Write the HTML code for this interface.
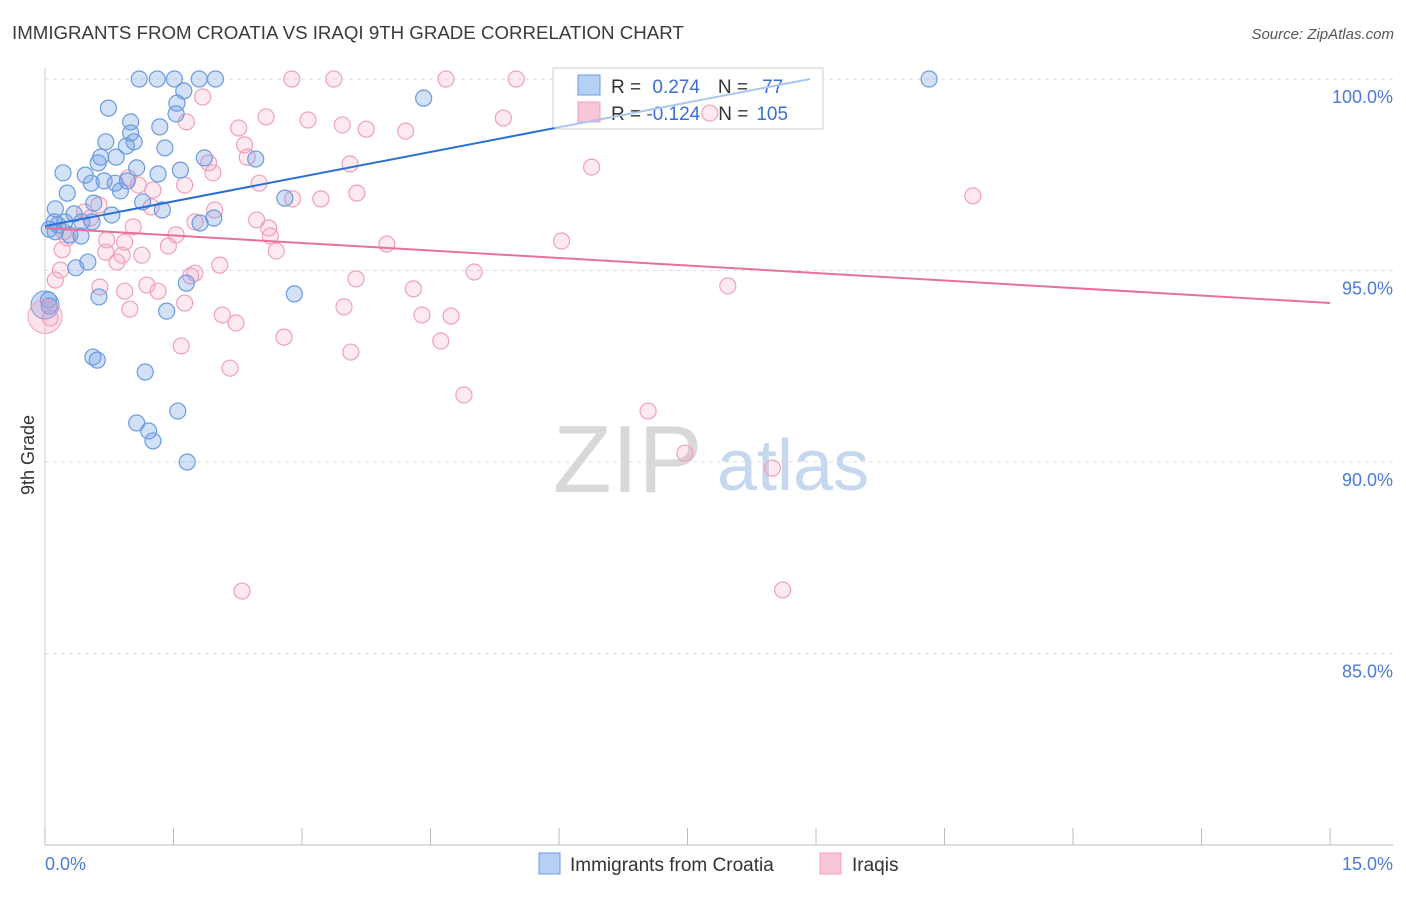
<!DOCTYPE html>
<html><head><meta charset="utf-8"><style>
body{margin:0;background:#fff;font-family:"Liberation Sans",sans-serif}
svg text{font-family:"Liberation Sans",sans-serif}
</style></head><body>
<svg id="chart" width="1406" height="892" viewBox="0 0 1406 892">
<text x="12" y="39" font-size="18.7" fill="#3a3a3a">IMMIGRANTS FROM CROATIA VS IRAQI 9TH GRADE CORRELATION CHART</text>
<text x="1394" y="39" font-size="15" fill="#555" font-style="italic" text-anchor="end">Source: ZipAtlas.com</text>
<text x="34" y="455" font-size="18" fill="#333" transform="rotate(-90 34 455)" text-anchor="middle">9th Grade</text>
<g>
<text x="553" y="492" font-size="96" fill="#d8d8d8" font-family="Liberation Serif, serif">ZIP</text>
<text x="717" y="490" font-size="72" fill="#c5d8f0">atlas</text>
</g>
<g id="grid"></g><g id="axes"></g>
<g>
<rect x="553" y="68" width="270" height="61" fill="#fff" stroke="#ccc"/>
<rect x="578" y="75" width="22" height="20" fill="#b5cff5" stroke="#6b9be0"/>
<rect x="578" y="102" width="22" height="20" fill="#f9c6d6" stroke="#f0a0bc"/>
<text x="611" y="93" font-size="19" fill="#333">R = <tspan fill="#3b6fd4" dx="6">0.274</tspan><tspan dx="18" fill="#333">N =</tspan><tspan dx="14" fill="#3b6fd4">77</tspan></text>
<text x="611" y="120" font-size="19" fill="#333">R = <tspan fill="#3b6fd4" dx="0">-0.124</tspan><tspan dx="18" fill="#333">N =</tspan><tspan dx="8" fill="#3b6fd4">105</tspan></text>
</g>
<g id="pts"></g><g id="lines"></g>
<g>
<rect x="539" y="853" width="21" height="21" fill="#b5cff5" stroke="#6b9be0"/>
<text x="570" y="871" font-size="19" fill="#333">Immigrants from Croatia</text>
<rect x="820" y="853" width="21" height="21" fill="#f9c6d6" stroke="#f0a0bc"/>
<text x="852" y="871" font-size="19" fill="#333">Iraqis</text>
</g>
</svg>
<script>
const yTicks=[100,95,90,85];
const yTickLabels=["100.0%","95.0%","90.0%","85.0%"];
const xTickVals=[0,1.5,3,4.5,6,7.5,9,10.5,12,13.5,15];
const blueX=[1.10,1.31,1.51,1.80,1.99,10.32,1.62,4.42,0.74,1.54,1.53,1.00,1.34,1.00,0.71,1.04,1.40,0.95,0.65,0.62,0.83,1.86,2.46,1.07,1.58,0.21,1.32,0.47,0.54,0.69,0.82,0.96,0.88,0.26,1.14,2.80,0.12,0.57,1.37,0.78,1.97,0.34,0.11,0.23,0.43,0.55,1.81,0.12,0.29,0.42,0.50,0.36,0.04,0.05,0.63,1.42,1.65,2.91,0.56,0.61,1.17,1.55,1.07,1.21,1.26,1.66,0.05,0.15];
const blueY=[100,100,100,100,100,100,99.69,99.50,99.24,99.37,99.09,98.88,98.75,98.59,98.36,98.36,98.20,98.25,97.96,97.81,97.96,97.94,97.91,97.68,97.62,97.55,97.52,97.49,97.28,97.34,97.28,97.34,97.08,97.02,96.79,96.89,96.61,96.76,96.58,96.45,96.37,96.48,96.27,96.27,96.27,96.27,96.24,96.01,95.93,95.90,95.22,95.07,94.23,94.07,94.31,93.94,94.67,94.39,92.74,92.66,92.35,91.33,91.02,90.81,90.55,90.00,96.08,96.19];
const pinkX=[2.88,3.37,4.68,5.50,7.76,5.35,1.84,2.58,3.07,3.47,3.75,4.21,2.26,2.33,2.36,1.91,6.38,3.56,1.65,2.50,1.96,1.63,1.26,1.09,0.97,3.64,2.89,3.22,10.83,1.24,1.98,2.47,2.61,2.63,2.70,1.75,1.53,1.44,1.03,0.72,0.93,0.90,1.13,0.71,0.84,2.04,1.75,1.70,3.99,6.03,5.01,3.63,4.30,7.97,0.64,0.93,1.19,1.32,1.63,0.99,2.07,2.23,3.49,4.40,4.74,2.79,4.62,3.57,1.59,2.16,4.89,7.04,7.47,8.49,2.30,8.61,0.18,0.12,0.06,0.20,0.26,0.46,0.63,0.53,0.22];
const pinkY=[100,100,100,100,99.11,98.98,99.53,99.01,98.93,98.80,98.69,98.64,98.72,98.28,97.96,97.81,97.70,97.78,98.88,97.28,97.55,97.23,97.10,97.23,97.42,97.02,96.87,96.87,96.95,96.66,96.58,96.32,96.11,95.90,95.51,96.27,95.93,95.64,96.14,95.80,95.74,95.40,95.40,95.48,95.22,95.14,94.93,94.86,95.69,95.77,94.96,94.78,94.52,94.60,94.57,94.46,94.62,94.46,94.15,93.99,93.84,93.63,94.05,93.84,93.81,93.26,93.16,92.87,93.03,92.45,91.75,91.33,90.23,89.84,86.63,86.66,95.01,94.75,93.76,95.54,95.85,96.53,96.71,96.37,96.01];
const bigX=[0,0],bigY=[94.1,93.8];
const blueTrend=[[0,96.16],[8.93,100]];
const pinkTrend=[[0,96.11],[15,94.15]];
const X=v=>45+v*85.67, Y=v=>79+(100-v)*38.3;
const NS="http://www.w3.org/2000/svg";
function mk(t,a,p){const e=document.createElementNS(NS,t);for(const k in a)e.setAttribute(k,a[k]);p.appendChild(e);return e;}
const grid=document.getElementById('grid'),axes=document.getElementById('axes'),pts=document.getElementById('pts'),lines=document.getElementById('lines');
yTicks.forEach((v,i)=>{
 const l=mk('line',{x1:45,x2:1393,y1:Y(v),y2:Y(v),stroke:'#ddd','stroke-dasharray':'4 4'},grid);
 
 
 const t=mk('text',{x:1393,y:Y(v)+24,'font-size':18,fill:'#4a7bd6','text-anchor':'end'},axes);
 t.textContent=yTickLabels[i];
 
 
});
const ax=mk('line',{x1:45,x2:1393,y1:845,y2:845,stroke:'#bbb'},axes);


const ay=mk('line',{x1:45,x2:45,y1:68,y2:845,stroke:'#ccc'},axes);


xTickVals.forEach(v=>{const t=mk('line',{x1:X(v),x2:X(v),y1:828,y2:845,stroke:'#bbb'},axes);
 
 });
[[0,"0.0%",'start',45],[15,"15.0%",'end',1393]].forEach(d=>{const t=mk('text',{x:d[3],y:870,'font-size':18,fill:'#4a7bd6','text-anchor':d[2]},axes);t.textContent=d[1];
 
 });
function dots(xs,ys,fill,stroke,name,r){xs.forEach((x,i)=>{const c=mk('circle',{cx:X(x),cy:Y(ys[i]),r:r,fill:fill,stroke:stroke,'stroke-width':1.2},pts);
 
 });}
dots(pinkX,pinkY,'rgba(245,160,190,0.22)','#f0a0bc','iraqis-point',8);
dots(blueX,blueY,'rgba(110,155,230,0.3)','#6b9be0','croatia-point',8);
const b1=mk('circle',{cx:X(bigX[0]),cy:Y(bigY[0]),r:14,fill:'rgba(110,155,230,0.35)',stroke:'#6b9be0'},pts);


const b2=mk('circle',{cx:X(bigX[1]),cy:Y(bigY[1]),r:17,fill:'rgba(245,160,190,0.3)',stroke:'#f0a0bc'},pts);


const mid=5.95, midY=blueTrend[0][1]+(blueTrend[1][1]-blueTrend[0][1])*mid/blueTrend[1][0];
const l1=mk('line',{x1:X(blueTrend[0][0]),y1:Y(blueTrend[0][1]),x2:X(mid),y2:Y(midY),stroke:'#2a6fd6','stroke-width':2},lines);


const l2=mk('line',{x1:X(mid),y1:Y(midY),x2:X(blueTrend[1][0]),y2:Y(blueTrend[1][1]),stroke:'#a9c6ef','stroke-width':2},lines);


const l3=mk('line',{x1:X(pinkTrend[0][0]),y1:Y(pinkTrend[0][1]),x2:X(pinkTrend[1][0]),y2:Y(pinkTrend[1][1]),stroke:'#e8709a','stroke-width':2},lines);


</script>
</body></html>
